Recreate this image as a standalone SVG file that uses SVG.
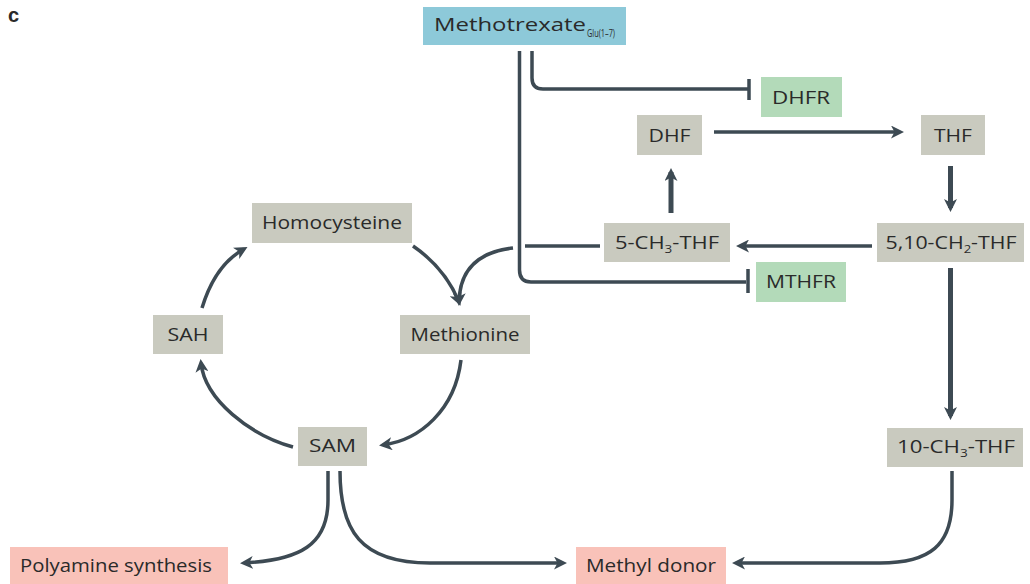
<svg xmlns="http://www.w3.org/2000/svg" width="1030" height="584" viewBox="0 0 1030 584">
<style>
.g{fill:#c9cabf}
.gr{fill:#b3dab9}
.pk{fill:#f9c2b9}
.bl{fill:#8dc9d9}
text{font-family:"Open Sans","Liberation Sans",sans-serif;font-size:18px;fill:#2a2a2a;text-anchor:middle}
.sub{font-size:11px}
.c{stroke:#3d4a53;stroke-width:3.5;fill:none}
.v{stroke-width:5}
.a{marker-end:url(#ah)}
</style>
<defs>
<marker id="ah" markerUnits="userSpaceOnUse" viewBox="0 0 13 13" markerWidth="13" markerHeight="13" refX="9" refY="6.5" orient="auto">
<path d="M0,0 L13,6.5 L0,13 L3.5,6.5 z" fill="#3d4a53"/>
</marker>
</defs>
<rect width="1030" height="584" fill="#ffffff"/>
<text x="8" y="22" style="font-weight:bold;font-size:20px;font-family:'Liberation Sans',sans-serif;text-anchor:start">c</text>

<g id="connectors">
<path class="c" d="M532,51 V78 Q532,89 543,89 H748"/>
<path class="c" d="M749,79 V100"/>
<path class="c" d="M519.5,51 V270 Q519.5,282 531,282 H746"/>
<path class="c" d="M748,269 V293"/>
<path class="c a" d="M714,132 H900"/>
<path class="c v a" d="M950.5,166 V208"/>
<path class="c a" d="M872,246 H740"/>
<path class="c v a" d="M671,213 V172"/>
<path class="c" d="M600,246 H525"/>
<path class="c a" d="M513,248 Q460,254 459,302"/>
<path class="c a" d="M413,246 Q445,268 459,302"/>
<path class="c a" d="M461,360 C455,410 420,440 383,445"/>
<path class="c a" d="M293,447 C250,435 205,400 201,363"/>
<path class="c a" d="M202,308 Q215,265 244,249"/>
<path class="c v a" d="M950.5,268 V416"/>
<path class="c a" d="M328,471 V500 C328,545 300,560 244,563"/>
<path class="c a" d="M340,471 C340,530 360,563 430,563 H563"/>
<path class="c a" d="M952,471 V500 C952,545 930,563 880,563 H736"/>
</g>

<g id="n-mtx"><rect class="bl" x="423" y="7" width="203" height="38"/><text x="434" y="31" style="text-anchor:start" textLength="152" lengthAdjust="spacingAndGlyphs">Methotrexate</text><text x="587" y="37" class="sub" style="text-anchor:start" textLength="28" lengthAdjust="spacingAndGlyphs">Glu(1–7)</text></g>
<g id="n-dhfr"><rect class="gr" x="761" y="77" width="81" height="40"/><text x="801" y="104" textLength="58" lengthAdjust="spacingAndGlyphs">DHFR</text></g>
<g id="n-dhf"><rect class="g" x="637" y="115" width="65" height="40"/><text x="669.5" y="142" textLength="42" lengthAdjust="spacingAndGlyphs">DHF</text></g>
<g id="n-thf"><rect class="g" x="921" y="115" width="64" height="40"/><text x="953" y="142" textLength="38" lengthAdjust="spacingAndGlyphs">THF</text></g>
<g id="n-5ch3"><rect class="g" x="604" y="223" width="126" height="39"/><text x="667" y="249" textLength="104" lengthAdjust="spacingAndGlyphs">5-CH<tspan class="sub" dy="4">3</tspan><tspan dy="-4">-THF</tspan></text></g>
<g id="n-510ch2"><rect class="g" x="877" y="223" width="147" height="39"/><text x="951" y="249" textLength="131" lengthAdjust="spacingAndGlyphs">5,10-CH<tspan class="sub" dy="4">2</tspan><tspan dy="-4">-THF</tspan></text></g>
<g id="n-mthfr"><rect class="gr" x="756" y="262" width="90" height="40"/><text x="801" y="288" textLength="70" lengthAdjust="spacingAndGlyphs">MTHFR</text></g>
<g id="n-hcy"><rect class="g" x="252" y="203" width="160" height="40"/><text x="332" y="229" textLength="140" lengthAdjust="spacingAndGlyphs">Homocysteine</text></g>
<g id="n-met"><rect class="g" x="400" y="315" width="130" height="39"/><text x="465" y="341" textLength="109" lengthAdjust="spacingAndGlyphs">Methionine</text></g>
<g id="n-sah"><rect class="g" x="153" y="315" width="70" height="39"/><text x="188" y="341" textLength="41" lengthAdjust="spacingAndGlyphs">SAH</text></g>
<g id="n-sam"><rect class="g" x="298" y="427" width="69" height="39"/><text x="332.5" y="452" textLength="47" lengthAdjust="spacingAndGlyphs">SAM</text></g>
<g id="n-10ch3"><rect class="g" x="887" y="428" width="136" height="39"/><text x="956" y="453" textLength="118" lengthAdjust="spacingAndGlyphs">10-CH<tspan class="sub" dy="4">3</tspan><tspan dy="-4">-THF</tspan></text></g>
<g id="n-poly"><rect class="pk" x="10" y="547" width="218" height="37"/><text x="116" y="572" textLength="192" lengthAdjust="spacingAndGlyphs">Polyamine synthesis</text></g>
<g id="n-methyl"><rect class="pk" x="576" y="547" width="150" height="37"/><text x="651" y="572" textLength="130" lengthAdjust="spacingAndGlyphs">Methyl donor</text></g>
</svg>
